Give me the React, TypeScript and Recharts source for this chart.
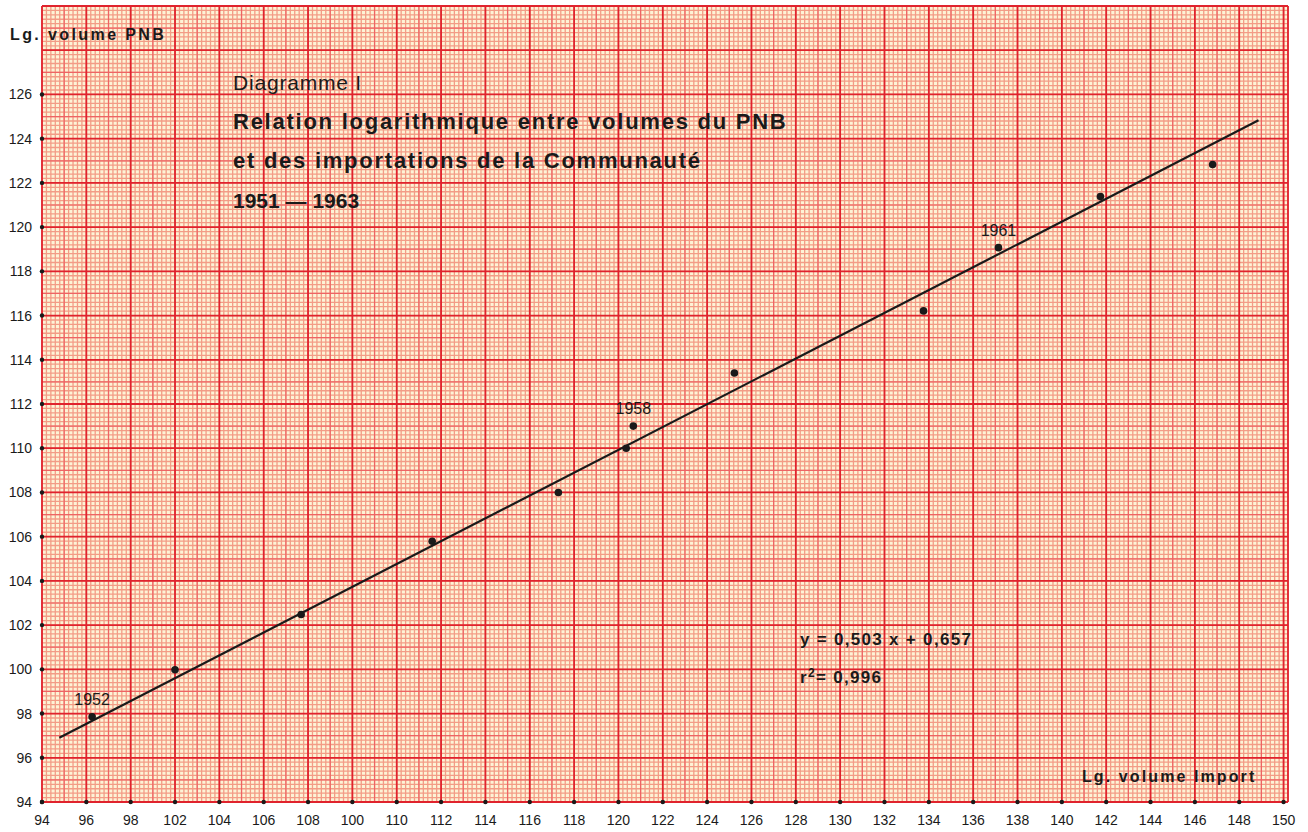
import { ScatterChart, Scatter, XAxis, YAxis, CartesianGrid } from 'recharts';

// points (x = lg volume import, y = lg volume PNB)
const importVolume = [96.26, 100.0, 105.69, 111.6, 117.29, 120.35, 120.67, 125.23, 133.76, 137.14, 141.74, 146.8];
const pnbVolume = [97.85, 99.98, 102.48, 105.79, 108.0, 110.0, 111.0, 113.4, 116.21, 119.07, 121.38, 122.83];
const yearLabels = ['1952', '', '', '', '', '', '1958', '', '', '1961', '', ''];

// drawn regression line, two end points
const fitImport = [94.78, 148.87];
const fitPnb = [96.91, 124.83];

const xTicks = [94, 96, 98, 100, 102, 104, 106, 108, 110, 112, 114, 116, 118, 120, 122, 124, 126, 128, 130, 132, 134, 136, 138, 140, 142, 144, 146, 148, 150];
// as printed on the original (including its misprints)
const xTickLabels = ['94', '96', '98', '102', '104', '106', '108', '100', '110', '112', '114', '116', '118', '120', '122', '124', '126', '128', '130', '132', '134', '136', '138', '140', '142', '144', '146', '148', '150'];
const yTicks = [94, 96, 98, 100, 102, 104, 106, 108, 110, 112, 114, 116, 118, 120, 122, 124, 126];

const titleLines = ['Relation logarithmique entre volumes du PNB', 'et des importations de la Communauté'];

const X_MIN = 94;
const X_MAX = 150.2;
const Y_MIN = 94;
const Y_MAX = 130;

const FONT = '"Liberation Sans", Arial, Helvetica, sans-serif';
const INK = '#1a1a1a';

const points = importVolume.map((x, i) => ({ x, y: pnbVolume[i], year: yearLabels[i] }));
const fitLine = fitImport.map((x, i) => ({ x, y: fitPnb[i] }));

// graph paper lines: fine every 0.2, medium on odd units, strong on even units
const steps = (from: number, to: number, step: number) => {
  const out: number[] = [];
  for (let v = from; v <= to + 1e-6; v += step) out.push(Math.round(v * 100) / 100);
  return out;
};
const fineX = steps(X_MIN, X_MAX, 0.2);
const fineY = steps(Y_MIN, Y_MAX, 0.2);
const oddX = steps(X_MIN + 1, 150, 2);
const oddY = steps(Y_MIN + 1, Y_MAX, 2);
const evenX = [...steps(X_MIN, 150, 2), X_MAX];
const evenY = steps(Y_MIN, Y_MAX, 2);

const XTick = ({ x, y, payload, index }: any) => (
  <g>
    <circle cx={x} cy={y} r={2.2} fill={INK} />
    <text x={x} y={y + 23} textAnchor="middle" fontSize={14} fontFamily={FONT} fill={INK}>
      {xTickLabels[index] ?? payload.value}
    </text>
  </g>
);

const YTick = ({ x, y, payload }: any) => (
  <g>
    <circle cx={x} cy={y} r={2.2} fill={INK} />
    <text x={x - 10} y={y + 5} textAnchor="end" fontSize={14} fontFamily={FONT} fill={INK}>
      {payload.value}
    </text>
  </g>
);

const PointShape = ({ cx, cy, payload }: any) => (
  <g>
    <circle cx={cx} cy={cy} r={3.8} fill={INK} />
    {payload.year ? (
      <text x={cx} y={cy - 12} textAnchor="middle" fontSize={16} fontFamily={FONT} fill={INK}>
        {payload.year}
      </text>
    ) : null}
  </g>
);

export default function App() {
  return (
    <div style={{ position: 'absolute', left: 0, top: 0, background: '#fff' }}>
      <ScatterChart width={1308} height={832} margin={{ top: 6, right: 20, bottom: 0, left: 0 }}>
        <CartesianGrid
          fill="#fdf3d6"
          fillOpacity={1}
          stroke="#f39c86"
          strokeWidth={1.3}
          verticalValues={fineX}
          horizontalValues={fineY}
        />
        <CartesianGrid stroke="#ee6464" strokeWidth={1.2} verticalValues={oddX} horizontalValues={oddY} />
        <CartesianGrid stroke="#e0232d" strokeWidth={1.8} verticalValues={evenX} horizontalValues={evenY} />
        <XAxis
          type="number"
          dataKey="x"
          domain={[X_MIN, X_MAX]}
          ticks={xTicks}
          interval={0}
          height={30}
          axisLine={false}
          tickLine={false}
          tickSize={0}
          tickMargin={0}
          tick={<XTick />}
          allowDataOverflow
        />
        <YAxis
          type="number"
          dataKey="y"
          domain={[Y_MIN, Y_MAX]}
          ticks={yTicks}
          interval={0}
          width={42}
          axisLine={false}
          tickLine={false}
          tickSize={0}
          tickMargin={0}
          tick={<YTick />}
          allowDataOverflow
        />
        <Scatter
          data={fitLine}
          line={{ stroke: INK, strokeWidth: 2.2 }}
          shape={() => <g />}
          isAnimationActive={false}
        />
        <Scatter data={points} shape={<PointShape />} isAnimationActive={false} />

        <text x={10} y={40} fontSize={16} fontWeight="bold" letterSpacing={2.4} fontFamily={FONT} fill={INK}>
          Lg. volume PNB
        </text>
        <text x={1082} y={782} fontSize={16} fontWeight="bold" letterSpacing={2.1} fontFamily={FONT} fill={INK}>
          Lg. volume Import
        </text>

        <text x={233} y={90} fontSize={21} letterSpacing={0.8} fontFamily={FONT} fill={INK}>
          Diagramme I
        </text>
        {titleLines.map((line, i) => (
          <text key={line} x={233} y={129 + i * 39} fontSize={22} fontWeight="bold" letterSpacing={1.75} fontFamily={FONT} fill={INK}>
            {line}
          </text>
        ))}
        <text x={233} y={208} fontSize={21} fontWeight="bold" fontFamily={FONT} fill={INK}>
          1951 — 1963
        </text>

        <text x={800} y={645} fontSize={17} fontWeight="bold" letterSpacing={1.3} fontFamily={FONT} fill={INK}>
          y = 0,503 x + 0,657
        </text>
        <text x={800} y={683} fontSize={17} fontWeight="bold" letterSpacing={1.3} fontFamily={FONT} fill={INK}>
          r<tspan fontSize={12} dy={-6}>2</tspan>
          <tspan dy={6}>= 0,996</tspan>
        </text>
      </ScatterChart>
    </div>
  );
}
